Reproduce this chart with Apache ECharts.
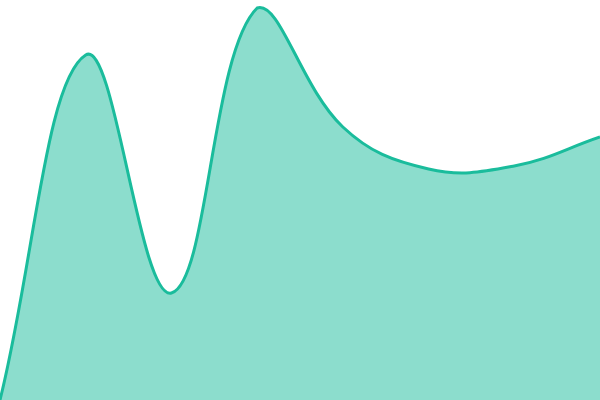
<!DOCTYPE html>
<head>
    <meta charset="utf-8">
    <title>ECharts</title>
</head>
<body style="margin:0">
    <div id="main" style="height:400px;width:600px"></div>
    <script src="https://cdn.jsdelivr.net/npm/echarts@6/dist/echarts.min.js"></script>
    <script type="text/javascript">
    var categories = ['1', '2', '3', '4', '5', '6', '7', '8'];
    var values = [0, 345, 107, 392, 273, 231, 234, 263];

    var tension = 0.4;

    // 按数据点算三次贝塞尔控制点（基数样条）
    function splinePath(pts, bottom, left, right, top) {
        var cps = [];
        for (var i = 0; i < pts.length; i++) {
            var p = pts[i];
            var prev = pts[i - 1] || p;
            var next = pts[i + 1] || p;
            var d01 = Math.hypot(p[0] - prev[0], p[1] - prev[1]);
            var d12 = Math.hypot(next[0] - p[0], next[1] - p[1]);
            var s01 = d01 / (d01 + d12) || 0;
            var s12 = d12 / (d01 + d12) || 0;
            var fa = tension * s01, fb = tension * s12;
            var cap = function (x, y) {
                return [Math.min(Math.max(x, left), right), Math.min(Math.max(y, top), bottom)];
            };
            cps.push({
                prev: cap(p[0] - fa * (next[0] - prev[0]), p[1] - fa * (next[1] - prev[1])),
                next: cap(p[0] + fb * (next[0] - prev[0]), p[1] + fb * (next[1] - prev[1]))
            });
        }
        var d = 'M' + pts[0][0] + ' ' + pts[0][1];
        for (var j = 1; j < pts.length; j++) {
            var a = cps[j - 1].next, b = cps[j].prev;
            d += ' C' + a[0] + ' ' + a[1] + ' ' + b[0] + ' ' + b[1] + ' ' + pts[j][0] + ' ' + pts[j][1];
        }
        return d;
    }

    var myChart = echarts.init(document.getElementById("main"));
    var option = {
        animation: false,
        grid: { left: 0, right: 0, top: 0, bottom: 0 },
        xAxis: {
            type: 'category',
            boundaryGap: false,
            data: categories,
            show: false
        },
        yAxis: {
            type: 'value',
            min: 0,
            max: 400,
            show: false
        },
        series: [{
            type: 'custom',
            data: values.map(function (v, i) { return [i, v]; }),
            encode: { x: 0, y: 1 },
            renderItem: function (params, api) {
                if (params.dataIndex !== 0) return;
                var pts = values.map(function (v, i) { return api.coord([i, v]); });
                var cs = params.coordSys;
                var bottom = api.coord([0, 0])[1];
                var line = splinePath(pts, cs.y + cs.height, cs.x, cs.x + cs.width, cs.y);
                var area = line + ' L' + pts[pts.length - 1][0] + ' ' + bottom + ' L' + pts[0][0] + ' ' + bottom + ' Z';
                return {
                    type: 'group',
                    children: [{
                        type: 'path',
                        shape: { pathData: area },
                        style: { fill: 'rgba(26,188,156,0.5)', stroke: null }
                    }, {
                        type: 'path',
                        shape: { pathData: line },
                        style: { fill: null, stroke: '#1abc9c', lineWidth: 3 }
                    }]
                };
            }
        }]
    };
    myChart.setOption(option);
    </script>
</body>
